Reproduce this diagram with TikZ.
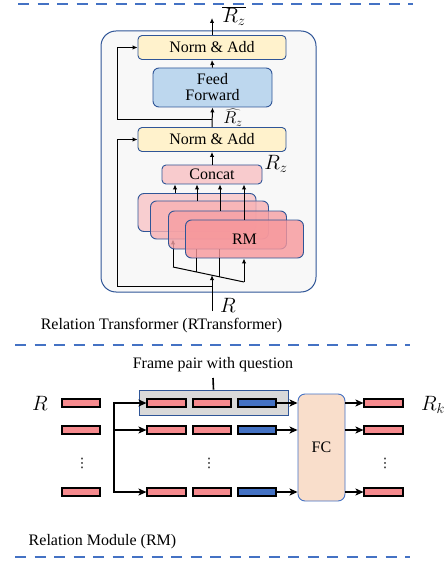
\documentclass[tikz,border=0pt]{standalone}
\usepackage{fontspec}
\setmainfont{Liberation Serif}
\newfontfamily\dotsfont{DejaVu Sans}
\usetikzlibrary{arrows.meta}
\definecolor{dashblue}{HTML}{4472C4}
\definecolor{bordblue}{HTML}{2F5597}
\definecolor{normfill}{HTML}{FFF2CC}
\definecolor{fffill}{HTML}{BDD7EE}
\definecolor{concatfill}{HTML}{F8CBCD}
\definecolor{rm1}{HTML}{F9C4C6}
\definecolor{rm2}{HTML}{F7B0B3}
\definecolor{rm3}{HTML}{F6A0A4}
\definecolor{rm4}{HTML}{F7979B}
\definecolor{bigfill}{HTML}{F8F8F8}
\definecolor{grayfill}{HTML}{D9D9D9}
\definecolor{fcfill}{HTML}{F9DECB}
\definecolor{barpink}{HTML}{F68A8E}
\definecolor{barblue}{HTML}{4472C4}
\begin{document}
\begin{tikzpicture}[x=1pt,y=-1pt,
  font=\fontsize{16}{17}\selectfont,
  dashline/.style={draw=dashblue, line width=2.4pt, dash pattern=on 11pt off 8.5pt},
  blk/.style={draw=bordblue, line width=0.9pt, rounded corners=4pt, inner sep=0pt},
  normbox/.style={blk, fill=normfill, minimum width=148pt, minimum height=24pt},
  ffbox/.style={blk, fill=fffill, minimum width=119pt, minimum height=39pt, align=center, rounded corners=6pt},
  concatbox/.style={blk, fill=concatfill, minimum width=100pt, minimum height=19pt},
  rmbox/.style={blk, rounded corners=6pt, minimum width=118pt, minimum height=38pt, fill opacity=0.8, text opacity=1},
  ar/.style={draw=black, line width=1pt, -{Latex[length=5pt,width=4.5pt]}},
  ln/.style={draw=black, line width=1pt},
  tar/.style={draw=black, line width=1.6pt, -{Stealth[length=8pt,width=7pt,inset=2pt]}},
  bar/.style={draw=black, line width=1.6pt, minimum width=38.5pt, minimum height=7.5pt, inner sep=0pt},
  pbar/.style={bar, fill=barpink},
  bbar/.style={bar, fill=barblue},
  lbl/.style={inner sep=0pt},
  mlbl/.style={inner sep=0pt, font=\fontsize{20}{21}\selectfont},
  slbl/.style={inner sep=0pt, font=\fontsize{17}{18}\selectfont},
  dots/.style={inner sep=0pt, font=\dotsfont\fontsize{13}{13}\selectfont}
]
\useasboundingbox (0,0) rectangle (444,561);

% dashed separators
\coordinate (d1a) at (18,4); \coordinate (d1b) at (413,4);
\coordinate (d2a) at (15,345); \coordinate (d2b) at (410,345);
\coordinate (d3a) at (15,557); \coordinate (d3b) at (410,557);
\draw[dashline] (d1a) -- (d1b);
\draw[dashline] (d2a) -- (d2b);
\draw[dashline] (d3a) -- (d3b);

% ---------- RTransformer ----------
\node[draw=bordblue, line width=1pt, fill=bigfill, rounded corners=15pt,
      minimum width=215pt, minimum height=261pt, inner sep=0pt] (big) at (208.5,161.5) {};

\node[normbox] (nt) at (212,47.5) {Norm \& Add};
\node[ffbox] (ff) at (212.5,87.5) {Feed\\[-1pt]Forward};
\node[normbox] (nb) at (212,139.5) {Norm \& Add};
\node[concatbox] (cc) at (212,174.5) {Concat};

% input lines under the RM boxes
\coordinate (rin) at (212,311);
\coordinate (sa) at (173,267);
\coordinate (sb) at (244,282);
\coordinate (f2) at (196,271.9);
\coordinate (f3) at (219,276.7);
\coordinate (rsl) at (212,275.2);
\coordinate (r2) at (212,286);
\coordinate (r2c) at (117,286);
\draw[ln] (sa) -- (sb);

% RM boxes
\node[rmbox, fill=rm1] (b1) at (197,212.5) {};
\node[rmbox, fill=rm2] (b2) at (209.5,220) {};
\draw[ar] (sa) -- (sa |- b2.south);
\node[rmbox, fill=rm3] (b3) at (227.5,230) {};
\draw[ln] (f2) -- (f2 |- b3.south);
\draw[ln] (f3) -- (f3 |- b3.south);
\node[rmbox, fill=rm4] (b4) at (244.5,239) {};
\node at (b4) {RM};
\draw[ln] (f2) -- (f2 |- b4.south);
\draw[ln] (f3) -- (f3 |- b4.south);
\draw[ar] (sb) -- (sb |- b4.south);
\draw[ar] (rin) -- (rsl);
\node[mlbl] (rlab) at (228,305) {$R$};

% arrows into concat
\coordinate (c1) at (175,0); \coordinate (c2) at (197,0);
\coordinate (c3) at (220,0); \coordinate (c4) at (244,0);
\draw[ar] (b1.north -| c1) -- (cc.south -| c1);
\draw[ar] (b2.north -| c2) -- (cc.south -| c2);
\draw[ar] (b3.north -| c3) -- (cc.south -| c3);
\draw[ar] (b4.north -| c4) -- (cc.south -| c4);

% main flow
\draw[ar] (cc.north) -- (nb.south);
\node[mlbl] (rzl) at (276,164) {$R_z$};
\draw[ar] (nb.north) -- (ff.south);
\node[slbl] (rzh) at (233,117.5) {$\widehat{R_z}$};
\draw[ar] (ff.north) -- (nt.south);
\coordinate (rout) at (212,18);
\draw[ar] (nt.north) -- (rout);
\node[mlbl] (rzo) at (234,16) {$\overline{R_z}$};

% residual connections
\coordinate (r1) at (212,120);
\coordinate (r1c) at (117,120);
\draw[ln] (r1) -- (r1c);
\draw[ar] (r1c) |- (nt.west);
\draw[ln] (r2) -- (r2c);
\draw[ar] (r2c) |- (nb.west);

\node (rtcap) at (161.5,326) {Relation Transformer (RTransformer)};

% ---------- Relation Module ----------
\node (fpq) at (213,365) {Frame pair with question};
\node[draw=bordblue, line width=0.8pt, fill=grayfill, minimum width=149pt, minimum height=25pt, inner sep=0pt] (gb) at (213.5,402.5) {};
\coordinate (tick) at (213,378);
\draw[line width=1.6pt] (gb.north) -- (tick);

\node[blk, draw=dashblue, fill=fcfill, rounded corners=7pt, minimum width=47pt, minimum height=107pt] (fc) at (321.5,447.5) {FC};

\foreach \r/\y in {1/403,2/430,3/492}{
  \node[pbar] (l\r) at (81,\y) {};
  \node[pbar] (p\r1) at (166.5,\y) {};
  \node[pbar] (p\r2) at (212,\y) {};
  \node[bbar] (p\r3) at (257,\y) {};
  \node[pbar] (o\r) at (383.5,\y) {};
  \draw[tar] (p\r3.east) -- (fc.west |- p\r3.east);
  \draw[tar] (fc.east |- o\r.west) -- (o\r.west);
}

\coordinate (bt) at (114,403);
\coordinate (bm) at (114,430);
\coordinate (bb) at (114,492);
\draw[tar] (bb) |- (p11.west);
\draw[tar] (bt) |- (p31.west);
\draw[tar] (bm) -- (p21.west);

\node[mlbl] (rL) at (40,403) {$R$};
\node[mlbl] (rK) at (433,405) {$R_k$};

\node[dots] (v1) at (82,463) {⋮};
\node[dots] (v2) at (209,463) {⋮};
\node[dots] (v3) at (385,463) {⋮};

\node (rmcap) at (102.5,542) {Relation Module (RM)};
\end{tikzpicture}
\end{document}
